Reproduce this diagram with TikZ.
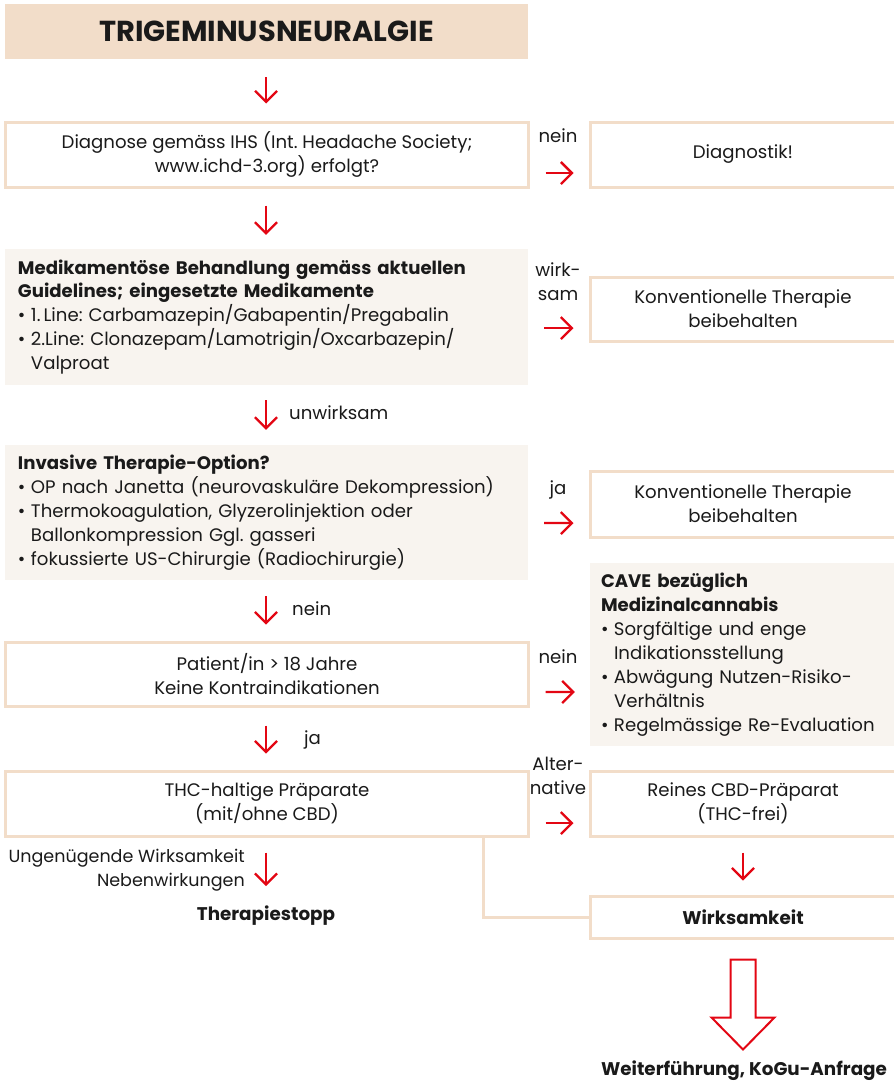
\documentclass[tikz,border=0pt]{standalone}
\usepackage{fontspec}
\setmainfont{Poppins}
\usetikzlibrary{arrows.meta,calc}
\definecolor{peach}{HTML}{F2DDC9}
\definecolor{cream}{HTML}{F8F4EF}
\definecolor{arrred}{HTML}{E30613}
\definecolor{ink}{HTML}{1A1A1A}
\newcommand\bl{\makebox[13bp][l]{\textbullet}}
\newcommand\ind{\hspace*{13bp}}
\frenchspacing
\begin{document}
\begin{tikzpicture}[x=1bp,y=-1bp,font=\fontsize{18.2}{24}\selectfont\frenchspacing,text=ink,
  outbox/.style={draw=peach,line width=3bp,fill=white,inner sep=0pt,align=center},
  fillbox/.style={fill=cream,inner xsep=13bp,inner ysep=0pt,align=left},
  redarr/.style={draw=arrred,line width=2.3bp,-{Straight Barb[length=11bp,width=22bp,line width=2.3bp]}},
  lbl/.style={inner sep=0pt,align=center},
  conn/.style={draw=peach,line width=3bp},
  headtxt/.style={inner sep=0pt,font=\fontsize{18.4}{24}\selectfont\bfseries}]
\useasboundingbox (0,0) rectangle (894,1081);
\clip (0,0) rectangle (894,1081);
% boxes
\node[fill=peach,minimum width=523bp,minimum height=55bp,inner sep=0pt,font=\fontsize{29}{32}\selectfont\bfseries] (title) at (266.5,31.5) {TRIGEMINUSNEURALGIE};
\node[outbox,minimum width=522bp,minimum height=65bp] (diag) at (267,154.5) {Diagnose gemäss IHS (Int. Headache Society;\\www.ichd-3.org) erfolgt?};
\node[outbox,minimum width=306bp,minimum height=65bp] (dx) at (743,154.5) {Diagnostik!};
\node[fillbox,text width=497bp,minimum height=136bp] (meds) at (266.5,317) {\textbf{Medikamentöse Behandlung gemäss aktuellen}\\\textbf{Guidelines; eingesetzte Medikamente}\\\bl 1.\,Line: Carbamazepin/Gabapentin/Pregabalin\\\bl 2.Line: Clonazepam/Lamotrigin/Oxcarbazepin/\\\ind Valproat};
\node[outbox,minimum width=306bp,minimum height=64bp] (konv1) at (743,309) {Konventionelle Therapie\\beibehalten};
\node[fillbox,text width=497bp,minimum height=135bp] (inv) at (266.5,512.5) {\textbf{Invasive Therapie-Option?}\\\bl OP nach Janetta (neurovaskuläre Dekompression)\\\bl Thermokoagulation, Glyzerolinjektion oder\\\ind Ballonkompression Ggl. gasseri\\\bl fokussierte US-Chirurgie (Radiochirurgie)};
\node[outbox,minimum width=306bp,minimum height=66bp] (konv2) at (743,504) {Konventionelle Therapie\\beibehalten};
\node[fillbox,inner xsep=11bp,text width=284bp,minimum height=183bp] (cave) at (743,654.5) {\textbf{CAVE bezüglich}\\\textbf{Medizinalcannabis}\\\bl Sorgfältige und enge\\\ind Indikationsstellung\\\bl Abwägung Nutzen-Risiko-\\\ind Verhältnis\\\bl Regelmässige Re-Evaluation};
\node[outbox,minimum width=522bp,minimum height=64bp] (pat) at (267,674) {Patient/in > 18 Jahre\\Keine Kontraindikationen};
\node[outbox,minimum width=522bp,minimum height=65bp] (thc) at (267,803.5) {THC-haltige Präparate\\(mit/ohne CBD)};
\node[outbox,minimum width=306bp,minimum height=65bp] (cbd) at (743,803.5) {Reines CBD-Präparat\\(THC-frei)};
\node[outbox,minimum width=306bp,minimum height=42bp,font=\fontsize{18.4}{24}\selectfont\bfseries] (wirk) at (743,917) {Wirksamkeit};
\node[headtxt] (stop) at (266,916) {Therapiestopp};
\node[headtxt] (final) at (744,1071) {Weiterführung, KoGu-Anfrage};
% labels
\node[lbl] (l1) at (558,136) {nein};
\node[lbl] (l2) at (558,282) {wirk-\\sam};
\node[lbl,anchor=west] (l3) at (289,413) {unwirksam};
\node[lbl] (l4) at (558,490) {ja};
\node[lbl,anchor=west] (l5) at (292,609) {nein};
\node[lbl] (l6) at (558,657) {nein};
\node[lbl,anchor=west] (l7) at (304,740) {ja};
\node[lbl] (l8) at (558,776) {Alter-\\native};
\node[lbl,align=right,anchor=east,font=\fontsize{17.6}{23.5}\selectfont] (l9) at (245,870) {Ungenügende Wirksamkeit\\Nebenwirkungen};
% down arrows
\draw[redarr] ($(title.south)+(-0.5,18)$) -- ($(diag.north)+(-1,-17)$);
\draw[redarr] ($(diag.south)+(-1,17)$) -- ($(meds.north)+(-0.5,-14)$);
\draw[redarr] ($(meds.south)+(-0.5,15)$) -- ($(inv.north)+(-0.5,-15)$);
\draw[redarr] ($(inv.south)+(-0.5,16)$) -- ($(pat.north)+(-1,-16)$);
\draw[redarr] ($(pat.south)+(-1,18)$) -- ($(thc.north)+(-1,-16)$);
\draw[redarr] ($(thc.south)+(-1,15)$) -- ($(stop.north)+(0,-20)$);
\draw[redarr] ($(cbd.south)+(0,15)$) -- ($(wirk.north)+(0,-14)$);
% right arrows
\draw[redarr] ($(diag.east)+(16,18.5)$) -- ($(dx.west)+(-15,18.5)$);
\draw[redarr] ($(meds.east)+(16,11)$) -- ($(konv1.west)+(-15,19)$);
\draw[redarr] ($(inv.east)+(16,10.5)$) -- ($(konv2.west)+(-15,19)$);
\draw[redarr] ($(pat.east)+(16,18)$) -- ($(cave.west)+(-15,37.5)$);
\draw[redarr] ($(thc.east)+(16,19.5)$) -- ($(cbd.west)+(-15,19.5)$);
% connector thc -> wirksamkeit
\draw[conn] ($(thc.south)+(216,0)$) |- (wirk.west);
% big hollow arrow
\draw[arrred,line width=2bp,line join=miter] ($(wirk.south)+(-12.5,20)$) -- ++(25,0) -- ++(0,58) -- ++(19,0) -- ++(-31.5,32) -- ++(-31.5,-32) -- ++(19,0) -- cycle;
\end{tikzpicture}
\end{document}
